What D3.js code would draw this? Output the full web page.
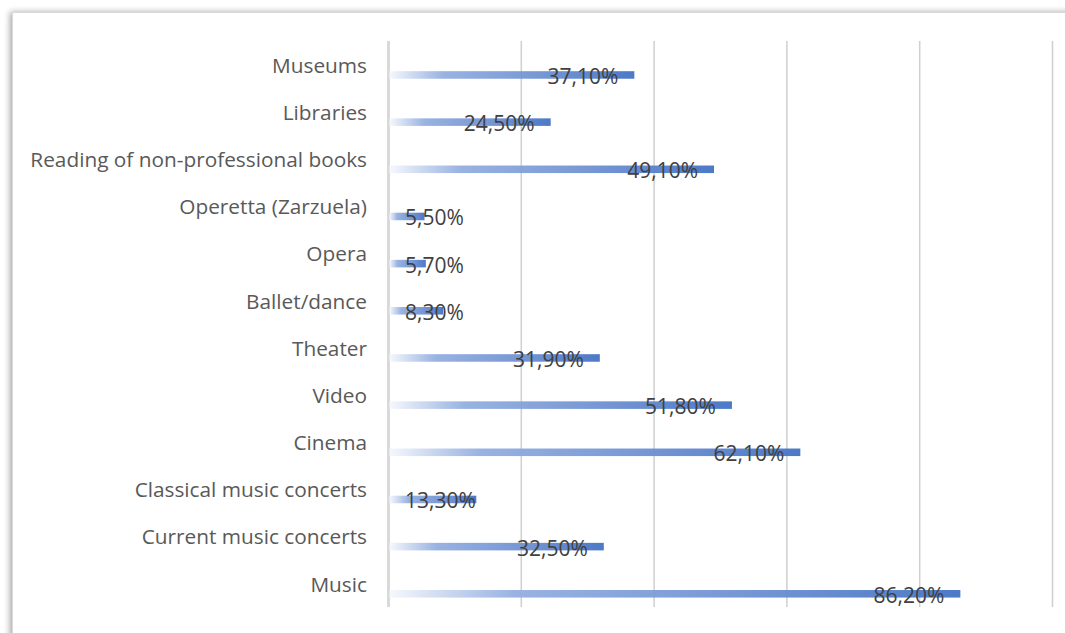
<!DOCTYPE html>
<html>
<head>
<meta charset="utf-8">
<script src="https://cdn.jsdelivr.net/npm/d3@7"></script>
<style>
  html, body { margin: 0; padding: 0; background: #ffffff; }
  svg { display: block; }
</style>
</head>
<body>
<svg id="chart" width="1065" height="633"></svg>
<script>
const categories = [
  "Museums",
  "Libraries",
  "Reading of non-professional books",
  "Operetta (Zarzuela)",
  "Opera",
  "Ballet/dance",
  "Theater",
  "Video",
  "Cinema",
  "Classical music concerts",
  "Current music concerts",
  "Music"
];
const values = [37.1, 24.5, 49.1, 5.5, 5.7, 8.3, 31.9, 51.8, 62.1, 13.3, 32.5, 86.2];
const valueLabels = ["37,10%", "24,50%", "49,10%", "5,50%", "5,70%", "8,30%", "31,90%", "51,80%", "62,10%", "13,30%", "32,50%", "86,20%"];
const gridTicks = [0, 20, 40, 60, 80, 100];

const svg = d3.select("#chart");
const W = 1065, H = 633;

// chart frame with soft shadow
const defs = svg.append("defs");
const shadow = defs.append("filter").attr("id", "shadow")
  .attr("x", "-5%").attr("y", "-5%").attr("width", "110%").attr("height", "110%");
shadow.append("feGaussianBlur").attr("in", "SourceAlpha").attr("stdDeviation", 3).attr("result", "blur");
shadow.append("feOffset").attr("in", "blur").attr("dx", -2).attr("dy", 0).attr("result", "off");
shadow.append("feComponentTransfer").attr("in", "off").attr("result", "sh")
  .append("feFuncA").attr("type", "linear").attr("slope", 0.35);
const merge = shadow.append("feMerge");
merge.append("feMergeNode").attr("in", "sh");
merge.append("feMergeNode").attr("in", "SourceGraphic");

svg.append("rect")
  .attr("x", 12.5).attr("y", 12.5)
  .attr("width", W + 20).attr("height", H + 20)
  .attr("fill", "#ffffff")
  .attr("stroke", "#d9d9d9")
  .attr("stroke-width", 1)
  .attr("filter", "url(#shadow)");

const grad = defs.append("linearGradient").attr("id", "barGrad")
  .attr("x1", "0%").attr("x2", "100%").attr("y1", "0%").attr("y2", "0%");
grad.append("stop").attr("offset", "0%").attr("stop-color", "#f5f7fc");
grad.append("stop").attr("offset", "22%").attr("stop-color", "#93aee0");
grad.append("stop").attr("offset", "60%").attr("stop-color", "#7193d3");
grad.append("stop").attr("offset", "100%").attr("stop-color", "#4472c4");

const x = d3.scaleLinear().domain([0, 100]).range([388, 1052]);
const y = d3.scaleBand().domain(categories).range([41, 607]).paddingInner(0).paddingOuter(0);

// gridlines
const gridAxis = d3.axisBottom(x).tickValues(gridTicks).tickSize(-(607 - 41)).tickFormat("");
const gGrid = svg.append("g").attr("transform", "translate(0,607)").call(gridAxis);
gGrid.select(".domain").remove();
gGrid.selectAll(".tick line")
  .attr("stroke", d => d === 0 ? "#d9d9d9" : "#cfcfcf")
  .attr("stroke-width", d => d === 0 ? 3 : 1.5);

// bars
const barH = y.bandwidth() * 0.16;
const barOff = y.bandwidth() * 0.5 + y.bandwidth() * 0.22;
svg.append("g").selectAll("rect")
  .data(categories)
  .join("rect")
  .attr("x", x(0) + 1.5)
  .attr("y", (d) => y(d) + barOff - barH / 2)
  .attr("width", (d, i) => x(values[i]) - x(0) - 1.5)
  .attr("height", barH)
  .attr("fill", "url(#barGrad)")
  .attr("fill-opacity", 0.95);

// category labels
const yAxis = d3.axisLeft(y).tickSize(0).tickPadding(21);
const gY = svg.append("g").attr("transform", `translate(${x(0)},1.5)`).call(yAxis);
gY.select(".domain").remove();
gY.selectAll("text")
  .attr("fill", "#595959")
  .attr("font-family", "'Open Sans', sans-serif")
  .attr("font-size", "20.8px");

// data labels
const gL = svg.append("g");
categories.forEach((c, i) => {
  const t = gL.append("text")
    .attr("y", y(c) + barOff + 1)
    .attr("dominant-baseline", "central")
    .attr("fill", "#404040")
    .attr("font-family", "'Open Sans', sans-serif")
    .attr("font-size", "21px")
    .text(valueLabels[i]);
  const w = t.node().getComputedTextLength();
  const left = Math.max(x(0) + 17, x(values[i]) - 16 - w);
  t.attr("x", left);
});
</script>
</body>
</html>
